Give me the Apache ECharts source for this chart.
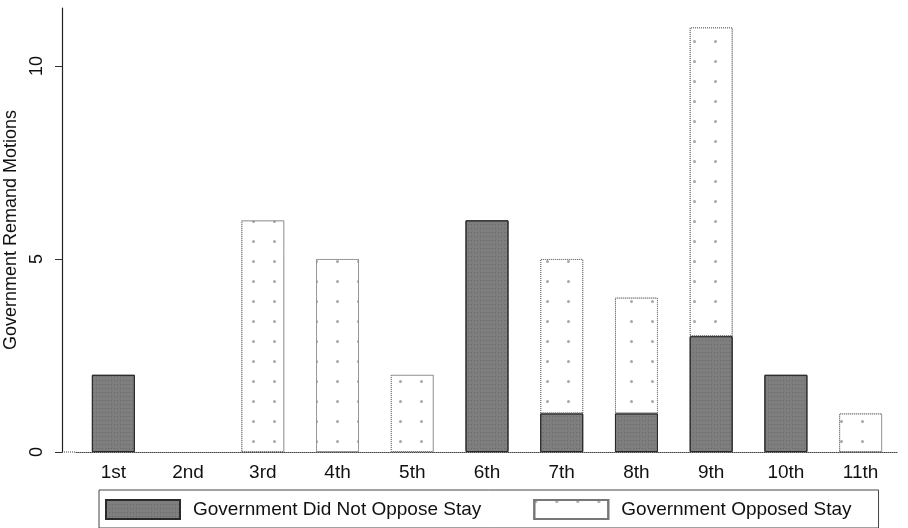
<!DOCTYPE html>
<html>
<head>
<meta charset="utf-8">
<script src="https://cdn.jsdelivr.net/npm/echarts@6/dist/echarts.min.js"></script>
<style>
html,body{margin:0;padding:0;background:#fff;}
#chart{width:908px;height:528px;}
</style>
</head>
<body>
<div id="chart"></div>
<script>
const categories = ['1st','2nd','3rd','4th','5th','6th','7th','8th','9th','10th','11th'];
const didNotOppose = [2, 0, 0, 0, 0, 6, 1, 1, 3, 2, 0];
const opposed = [0, 0, 6, 5, 2, 0, 4, 3, 8, 0, 1];
const yTicks = [0, 5, 10];
const seriesNames = ['Government Did Not Oppose Stay', 'Government Opposed Stay'];

const toData = arr => arr.map(v => (v === 0 ? '-' : v));

const font = 'Liberation Sans, Arial, sans-serif';
const chart = echarts.init(document.getElementById('chart'), null, {renderer: 'canvas'});
chart.setOption({
  backgroundColor: '#ffffff',
  animation: false,
  grid: {left: 76, right: 10, top: 8, bottom: 76, containLabel: false, outerBoundsMode: 'none'},
  xAxis: {
    type: 'category',
    data: categories,
    boundaryGap: true,
    splitLine: {show: false},
    axisLine: {show: true, lineStyle: {color: '#444', width: 1, type: 'dotted'}},
    axisTick: {show: false},
    axisLabel: {fontFamily: font, fontSize: 19, color: '#111', margin: 11, interval: 0}
  },
  yAxis: {
    type: 'value',
    min: 0,
    max: 11.5,
    offset: 14,
    name: 'Government Remand Motions',
    nameLocation: 'middle',
    nameGap: 31,
    nameTextStyle: {fontFamily: font, fontSize: 18, color: '#111'},
    splitLine: {show: false},
    axisLine: {show: true, lineStyle: {color: '#222', width: 1.2}},
    axisTick: {show: true, customValues: yTicks, length: 7, lineStyle: {color: '#333'}},
    axisLabel: {
      customValues: yTicks,
      rotate: 90,
      fontFamily: font, fontSize: 18, color: '#111', margin: 16
    }
  },
  legend: {
    left: 99,
    top: 490,
    orient: 'horizontal',
    icon: 'rect',
    padding: [9, 27, 8, 6],
    itemGap: 52,
    itemWidth: 74,
    itemHeight: 19,
    borderColor: '#444',
    borderWidth: 1,
    textStyle: {fontFamily: font, fontSize: 19, color: '#111', padding: [0, 0, 0, 8]},
    data: seriesNames
  },
  series: [
    {
      name: seriesNames[0],
      type: 'bar',
      stack: 'total',
      barWidth: 43,
      data: toData(didNotOppose),
      itemStyle: {
        color: '#7e7e7e',
        borderColor: '#2a2a2a',
        borderWidth: 1,
        decal: {
          symbol: 'rect',
          symbolSize: 1,
          dashArrayX: [[1, 2]],
          dashArrayY: [1, 3],
          color: 'rgba(40,40,40,0.25)',
          rotation: 0
        }
      }
    },
    {
      name: seriesNames[1],
      type: 'bar',
      stack: 'total',
      barWidth: 43,
      data: toData(opposed),
      itemStyle: {
        color: '#ffffff',
        borderColor: '#777',
        borderWidth: 1,
        borderType: 'dotted',
        decal: {
          symbol: 'circle',
          symbolSize: 1,
          dashArrayX: [[3, 18]],
          dashArrayY: [3, 17],
          color: 'rgba(130,130,130,0.7)',
          rotation: 0
        }
      }
    }
  ]
});

// extend the dotted baseline from the offset y axis to the plot area
const gridRect = chart.getModel().getComponent('grid', 0).coordinateSystem.getRect();
chart.setOption({
  graphic: [{
    type: 'line',
    silent: true,
    shape: {x1: gridRect.x - 14, y1: gridRect.y + gridRect.height, x2: gridRect.x, y2: gridRect.y + gridRect.height},
    style: {stroke: '#444', lineWidth: 1, lineDash: [1, 1]}
  }]
});
</script>
</body>
</html>
